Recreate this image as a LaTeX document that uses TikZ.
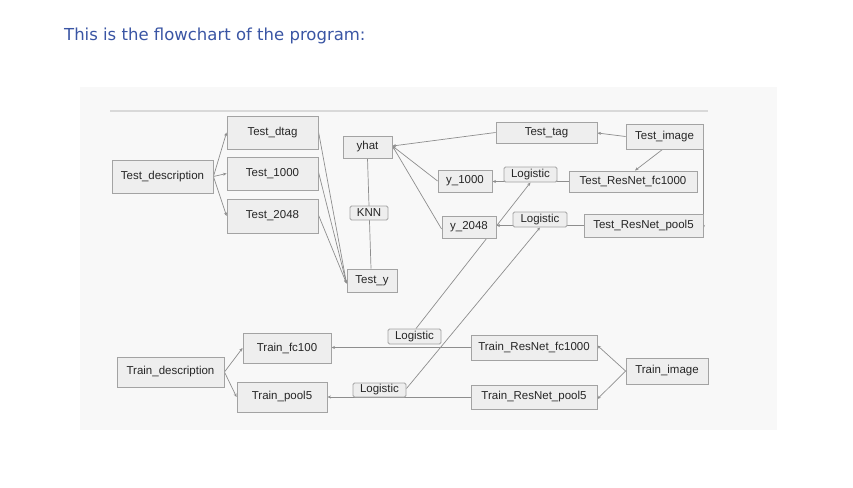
\documentclass[tikz,border=0pt]{standalone}
\usepackage{fontspec}
\setmainfont{Liberation Sans}
\newfontfamily\titlefont{DejaVu Sans}
\usetikzlibrary{arrows.meta}
\definecolor{boxfill}{HTML}{EEEEEE}
\definecolor{boxline}{HTML}{A3A3A3}
\definecolor{edgecol}{HTML}{8E8E8E}
\definecolor{titleblue}{HTML}{3A55A4}
\definecolor{panel}{HTML}{F8F8F8}
\definecolor{rule}{HTML}{D9D9D9}
\definecolor{boxtext}{HTML}{262626}
\pgfdeclarelayer{bg}
\pgfdeclarelayer{edges}
\pgfsetlayers{bg,edges,main}
\begin{document}
\begin{tikzpicture}[x=1pt,y=-1pt,
  box/.style={draw=boxline, fill=boxfill, line width=0.9pt, inner sep=0pt,
    font=\fontsize{11.5}{13}\selectfont, text=boxtext},
  lab/.style={box, rounded corners=1.5pt},
  conn/.style={draw=edgecol, line width=0.7pt},
  arr/.style={conn, -{Stealth[length=3.5pt,width=3pt]}},
]
\useasboundingbox (0,0) rectangle (853,487);
\begin{pgfonlayer}{bg}
  \fill[white] (0,0) rectangle (853,487);
  \fill[panel] (80,87) rectangle (777,430);
  \draw[rule, line width=1.4pt] (110,111) -- (708,111);
\end{pgfonlayer}

\node[anchor=base west, inner sep=0pt, text=titleblue,
  font=\titlefont\fontsize{16.5}{20}\selectfont] (title) at (64,40.7)
  {This is the flowchart of the program:};

% test side
\node[box, minimum width=101pt, minimum height=33pt] (tdesc) at (162.5,176.5) {Test\_description};
\node[box, minimum width=91pt, minimum height=33pt] (tdtag) at (272.5,132.5) {Test\_dtag};
\node[box, minimum width=91pt, minimum height=33pt] (t1000) at (272.5,173.5) {Test\_1000};
\node[box, minimum width=91pt, minimum height=34pt] (t2048) at (272.5,216) {Test\_2048};
\node[box, minimum width=49pt, minimum height=22pt] (yhat) at (367.5,147) {yhat};
\node[box, minimum width=50pt, minimum height=23pt] (testy) at (372,280.5) {Test\_y};
\node[box, minimum width=54pt, minimum height=22pt] (y1000) at (465,181) {y\_1000};
\node[box, minimum width=54pt, minimum height=22pt] (y2048) at (469,227) {y\_2048};
\node[box, minimum width=101pt, minimum height=21pt] (ttag) at (546.5,132.5) {Test\_tag};
\node[box, minimum width=77pt, minimum height=25pt] (timg) at (664.5,136.5) {Test\_image};
\node[box, minimum width=128pt, minimum height=21pt] (tfc) at (633,181.5) {Test\_ResNet\_fc1000};
\node[box, minimum width=119pt, minimum height=23pt] (tpool) at (643.5,225.5) {Test\_ResNet\_pool5};

% train side
\node[box, minimum width=107pt, minimum height=30pt] (trdesc) at (170.5,372) {Train\_description};
\node[box, minimum width=88pt, minimum height=30pt] (trf100) at (287,348) {Train\_fc100};
\node[box, minimum width=90pt, minimum height=30pt] (trp5) at (282,397) {Train\_pool5};
\node[box, minimum width=126pt, minimum height=25pt] (trfc) at (534,347.5) {Train\_ResNet\_fc1000};
\node[box, minimum width=126pt, minimum height=24pt] (trpool) at (534,397) {Train\_ResNet\_pool5};
\node[box, minimum width=82pt, minimum height=26pt] (trimg) at (667,371) {Train\_image};

% labels
\node[lab, minimum width=38pt, minimum height=14pt] (knn) at (369,213) {KNN};
\node[lab, minimum width=53pt, minimum height=15pt] (lt1) at (530.5,174.5) {Logistic};
\node[lab, minimum width=54pt, minimum height=15pt] (lt2) at (540,219.5) {Logistic};
\node[lab, minimum width=53pt, minimum height=15pt] (lb1) at (414.5,336.5) {Logistic};
\node[lab, minimum width=53pt, minimum height=14pt] (lb2) at (379.5,390) {Logistic};

\begin{pgfonlayer}{edges}
  \draw[arr] (tdesc.east) -- (tdtag.west);
  \draw[arr] (tdesc.east) -- (t1000.west);
  \draw[arr] (tdesc.east) -- (t2048.west);
  \draw[arr] ([yshift=1pt]tdtag.east) -- ([yshift=-3pt]testy.west);
  \draw[arr] ([yshift=1.5pt]t1000.east) -- ([yshift=-3pt]testy.west);
  \draw[arr] ([yshift=1pt]t2048.east) -- ([yshift=-3pt]testy.west);
  \draw[conn] (yhat.south) -- ([xshift=-1pt]testy.north);
  \draw[arr] (ttag.west) -- ([yshift=1pt]yhat.east);
  \draw[arr] (y1000.west) -- ([yshift=1pt]yhat.east);
  \draw[arr] ([yshift=-2pt]y2048.west) -- ([yshift=1pt]yhat.east);
  \draw[arr] (timg.west) -- ([yshift=-0.5pt]ttag.east);
  \draw[arr] ([xshift=-2pt]timg.south) -- ([xshift=2pt]tfc.north);
  \draw[arr] (timg.south east) -- ([yshift=-3pt]timg.south east |- tpool.east);
  \draw[arr] (tfc.west) -- (tfc.west -| y1000.east);
  \draw[arr] (tpool.west) -- (tpool.west -| y2048.east);
  \draw[arr] ([xshift=1.5pt]lb1.north) -- (lt1.south);
  \draw[arr] ([yshift=-6pt]lb2.north east) -- (lt2.south);
  \draw[arr] (trfc.west) -- (trfc.west -| trf100.east);
  \draw[arr] (trpool.west) -- (trpool.west -| trp5.east);
  \draw[arr] (trimg.west) -- ([yshift=2pt]trfc.east);
  \draw[arr] (trimg.west) -- ([yshift=-2pt]trpool.east);
  \draw[arr] (trdesc.east) -- (trf100.west);
  \draw[arr] (trdesc.east) -- (trp5.west);
\end{pgfonlayer}
\end{tikzpicture}
\end{document}
